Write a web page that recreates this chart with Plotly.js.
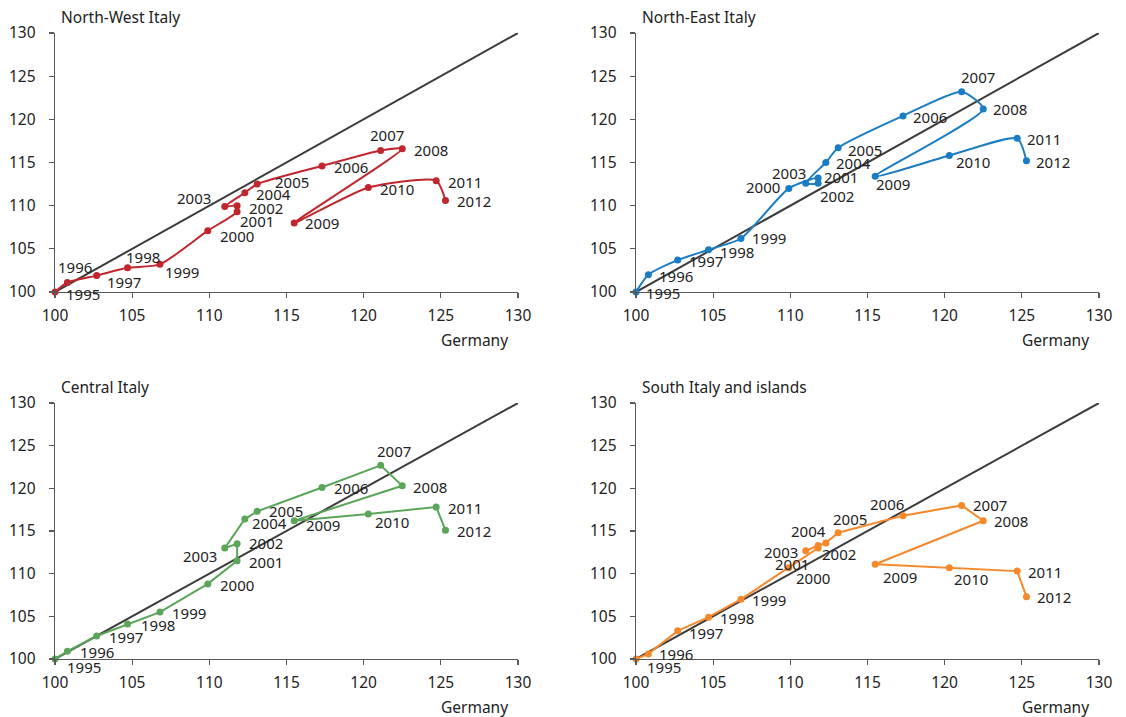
<!DOCTYPE html>
<html>
<head>
<meta charset="utf-8">
<script src="https://cdn.plot.ly/plotly-3.0.1.min.js"></script>
<style>html,body{margin:0;padding:0;background:#fff}#chart{width:1126px;height:717px}</style>
</head>
<body>
<div id="chart"></div>
<script>
// ---- data ----
const years = ['1995','1996','1997','1998','1999','2000','2001','2002','2003','2004','2005','2006','2007','2008','2009','2010','2011','2012'];
const germany   = [100, 100.8, 102.7, 104.7, 106.8, 109.9, 111.8, 111.8, 111.0, 112.3, 113.1, 117.3, 121.1, 122.5, 115.5, 120.3, 124.7, 125.3];
const northWest = [100, 101.1, 101.9, 102.8, 103.2, 107.1, 109.3, 110.0, 109.9, 111.5, 112.5, 114.6, 116.4, 116.6, 108.0, 112.1, 112.9, 110.6];
const northEast = [100, 102.0, 103.7, 104.9, 106.2, 112.0, 113.2, 112.6, 112.6, 115.0, 116.7, 120.4, 123.2, 121.2, 113.4, 115.8, 117.8, 115.2];
const central   = [100, 100.9, 102.7, 104.1, 105.5, 108.8, 111.5, 113.5, 113.0, 116.4, 117.3, 120.1, 122.7, 120.3, 116.2, 117.0, 117.8, 115.1];
const south     = [100, 100.6, 103.3, 104.9, 107.0, 110.7, 113.0, 113.3, 112.7, 113.6, 114.8, 116.8, 118.0, 116.2, 111.1, 110.7, 110.3, 107.3];
const panelTitles = ['North-West Italy', 'North-East Italy', 'Central Italy', 'South Italy and islands'];
const xTitle = 'Germany';
const tickVals = [100, 105, 110, 115, 120, 125, 130];

// ---- label placement (pixel offsets dx, dy; dy positive = down) ----
const D = [29, 1];
const offNW = [[28,2],[8,-15],[27,6],[15,-11],[22,8],[29,5],[20,9],[29,2],[-31,-9],[29,1],[35,-2],[29,1],[6,-15],[29,1],[28,0],[29,1],[29,1],[29,1]];
const offNE = [[27,1],[28,1],[28,1],[28,2],[28,0],[-26,-1],[23,-1],[19,13],[-17,-10],[28,1],[27,2],[27,1],[16,-15],[27,0],[18,8],[24,6],[27,1],[27,1]];
const offC  = [[29,8],[30,1],[29,1],[30,1],[29,1],[29,1],[29,1],[29,-1],[-25,8],[25,4],[29,0],[29,1],[13,-14],[28,1],[29,4],[24,8],[29,1],[29,1]];
const offS  = [[28,8],[28,0],[28,2],[28,1],[28,1],[24,10],[-26,16],[21,8],[-25,1],[-17,-12],[12,-14],[-16,-12],[28,0],[28,0],[25,13],[22,11],[28,1],[28,0]];

const FONT = 'Noto Sans, sans-serif';
const TXT = '#222222';

const panels = [
  {vals: northWest, color: '#c0262d', shape: 'spline', off: offNW, xd: [55/1126, 518/1126], yd: [1-292/717, 1-33/717]},
  {vals: northEast, color: '#1a7cc2', shape: 'spline', off: offNE, xd: [636/1126, 1099/1126], yd: [1-292/717, 1-33/717]},
  {vals: central,   color: '#5aa55a', shape: 'linear', off: offC,  xd: [55/1126, 518/1126], yd: [1-659/717, 1-403/717]},
  {vals: south,     color: '#f5882a', shape: 'linear', off: offS,  xd: [636/1126, 1099/1126], yd: [1-659/717, 1-403/717]}
];

const traces = [];
const annotations = [];
const layout = {
  width: 1126, height: 717,
  margin: {l: 0, r: 0, t: 0, b: 0},
  paper_bgcolor: '#fff', plot_bgcolor: '#fff',
  showlegend: false,
  font: {family: FONT, size: 15, color: TXT}
};

panels.forEach((p, k) => {
  const n = k === 0 ? '' : String(k + 1);
  const xa = 'x' + n, ya = 'y' + n;
  traces.push({
    x: [tickVals[0], tickVals[tickVals.length-1]], y: [tickVals[0], tickVals[tickVals.length-1]],
    xaxis: xa, yaxis: ya, mode: 'lines', type: 'scatter',
    line: {color: '#3c3c3c', width: 2}, hoverinfo: 'skip'
  });
  traces.push({
    x: germany, y: p.vals, xaxis: xa, yaxis: ya, type: 'scatter', mode: 'lines+markers',
    line: {color: p.color, width: 2, shape: p.shape, smoothing: 0.6},
    marker: {color: p.color, size: 7}, cliponaxis: false
  });
  const axCommon = {
    range: [100, 130], tickvals: tickVals, showgrid: false, zeroline: false,
    showline: true, linecolor: '#595959', linewidth: 1.3,
    ticks: 'outside', ticklen: 5, tickcolor: '#595959', tickwidth: 1.3,
    tickfont: {family: FONT, size: 15.5, color: TXT}, fixedrange: true
  };
  layout['xaxis' + n] = Object.assign({}, axCommon, {domain: p.xd, anchor: ya, ticklabelstandoff: 4});
  layout['yaxis' + n] = Object.assign({}, axCommon, {domain: p.yd, anchor: xa, ticklabelstandoff: 10});
  years.forEach((yr, i) => {
    const o = p.off[i] || D;
    annotations.push({
      x: germany[i], y: p.vals[i], xref: xa, yref: ya, text: yr, showarrow: false,
      xshift: o[0], yshift: -o[1], font: {family: FONT, size: 15, color: TXT}
    });
  });
  // panel title
  annotations.push({
    x: p.xd[0] + 4/1126, y: p.yd[1] + 16/717, xref: 'paper', yref: 'paper',
    xanchor: 'left', yanchor: 'middle', text: panelTitles[k], showarrow: false,
    font: {family: FONT, size: 15.5, color: TXT}
  });
  // x axis title
  annotations.push({
    x: p.xd[1] - 8/1126, y: p.yd[0] - 48/717, xref: 'paper', yref: 'paper',
    xanchor: 'right', yanchor: 'middle', text: xTitle, showarrow: false,
    font: {family: FONT, size: 15.5, color: TXT}
  });
});
layout.annotations = annotations;

Plotly.newPlot('chart', traces, layout, {displayModeBar: false, staticPlot: true});
</script>
</body>
</html>
